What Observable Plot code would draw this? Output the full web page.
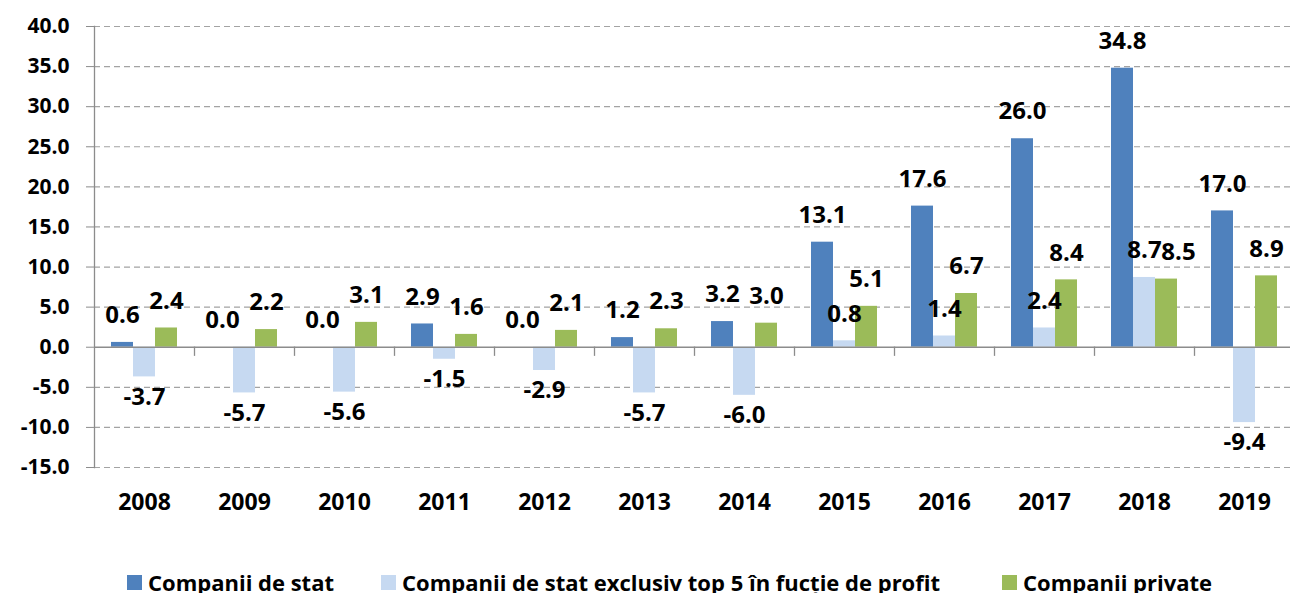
<!DOCTYPE html>
<html>
<head>
<meta charset="utf-8">
<script src="https://cdn.jsdelivr.net/npm/d3@7"></script>
<script src="https://cdn.jsdelivr.net/npm/@observablehq/plot@0.6"></script>
<style>
  body { margin: 0; background: #fff; font-family: "Open Sans", sans-serif; overflow: hidden; }
  #chart svg { display: block; }
  #legend { display: flex; align-items: center; height: 22px; line-height: 22px; margin-top: 31px; padding-left: 127px;
            font-weight: 700; font-size: 22px; color: #000; white-space: nowrap; }
  .item { display: flex; align-items: center; }
  .sw { width: 15px; height: 15px; margin-right: 6px; }
</style>
</head>
<body>
<div id="chart"></div>
<div id="legend"></div>
<script>
const years = ["2008","2009","2010","2011","2012","2013","2014","2015","2016","2017","2018","2019"];
const series = ["Companii de stat", "Companii de stat exclusiv top 5 în fucție de profit", "Companii private"];
const companiiDeStat = [0.6, 0.0, 0.0, 2.9, 0.0, 1.2, 3.2, 13.1, 17.6, 26.0, 34.8, 17.0];
const companiiDeStatExclusivTop5 = [-3.7, -5.7, -5.6, -1.5, -2.9, -5.7, -6.0, 0.8, 1.4, 2.4, 8.7, -9.4];
const companiiPrivate = [2.4, 2.2, 3.1, 1.6, 2.1, 2.3, 3.0, 5.1, 6.7, 8.4, 8.5, 8.9];
const colors = ["#4f81bd", "#c6d9f1", "#9bbb59"];
const yTicks = [-15, -10, -5, 0, 5, 10, 15, 20, 25, 30, 35, 40];

const seriesValues = [companiiDeStat, companiiDeStatExclusivTop5, companiiPrivate];
const data = years.flatMap((year, i) => series.map((s, k) => ({
  year, series: s, value: seriesValues[k][i],
  // label collides with the left neighbour's label when both sit at nearly the same height
  nudged: k > 0 && seriesValues[k][i] >= 0 && seriesValues[k - 1][i] >= 0 &&
          Math.abs(seriesValues[k][i] - seriesValues[k - 1][i]) < 1.5
})));

const W = 1290, H = 540, mT = 26, mB = 73, mL = 91, mR = -7;
const yPix = d3.scaleLinear().domain([-15, 40]).range([H - mB, mT]);
const tickLen = 8;
const zeroInsetTop = yPix(0) - mT;
const zeroInsetBottom = (H - mB) - (yPix(0) + tickLen);

const axisGray = "#8c8c8c";
const fmt = d => d.value.toFixed(1);
const labelStyle = {fx: "year", x: "series", y: "value", text: fmt, fontSize: 24, fontWeight: 700, fill: "#000"};

const chart = Plot.plot({
  width: W, height: H,
  marginTop: mT, marginBottom: mB, marginLeft: mL, marginRight: mR,
  style: {fontFamily: '"Open Sans", sans-serif', background: "#fff", color: "#000"},
  fx: {domain: years, padding: 0, label: null},
  x: {domain: series, paddingInner: 0, paddingOuter: 0.75, axis: null},
  y: {domain: [-15, 40]},
  color: {domain: series, range: colors},
  marks: [
    Plot.ruleY(yTicks.filter(d => d !== 0), {stroke: "#a3a3a3", strokeWidth: 1.2, strokeDasharray: "6,4"}),
    Plot.barY(data, {fx: "year", x: "series", y: "value", fill: "series"}),
    Plot.ruleY([0], {stroke: axisGray, strokeWidth: 1.3}),
    Plot.frame({anchor: "right", insetTop: zeroInsetTop, insetBottom: zeroInsetBottom, stroke: axisGray, strokeWidth: 1.3}),
    Plot.frame({anchor: "left", facetAnchor: "left", stroke: axisGray, strokeWidth: 1.3}),
    Plot.axisY({ticks: yTicks, tickFormat: d => d.toFixed(1), tickSize: tickLen, tickPadding: 17,
                fontSize: 21, fontWeight: 700, stroke: axisGray, fill: "#000", label: null}),
    Plot.axisFx({anchor: "bottom", tickSize: 0, tickPadding: 26, fontSize: 23, fontWeight: 700, fill: "#000", label: null}),
    Plot.text(data.filter(d => d.value >= 0 && !d.nudged), {...labelStyle, dy: -27}),
    Plot.text(data.filter(d => d.value >= 0 && d.nudged), {...labelStyle, dy: -27, dx: 12}),
    Plot.text(data.filter(d => d.value < 0), {...labelStyle, dy: 20})
  ]
});
document.getElementById("chart").appendChild(chart);

const legend = document.getElementById("legend");
const legendGaps = ["47px", "62px", "0px"];
series.forEach((s, k) => {
  const item = document.createElement("div");
  item.className = "item";
  item.style.marginRight = legendGaps[k];
  const sw = document.createElement("span");
  sw.className = "sw";
  sw.style.background = colors[k];
  const label = document.createElement("span");
  label.textContent = s;
  item.appendChild(sw);
  item.appendChild(label);
  legend.appendChild(item);
});
</script>
</body>
</html>
